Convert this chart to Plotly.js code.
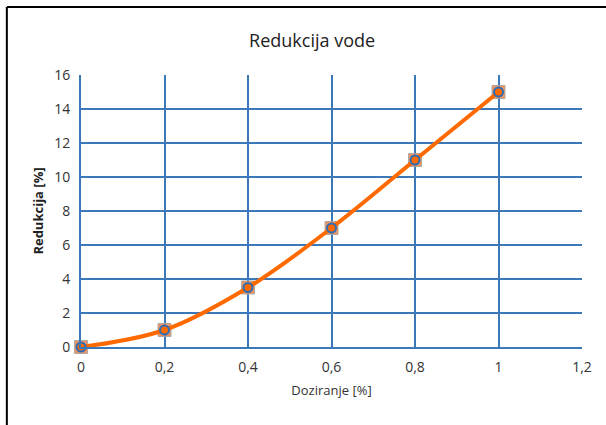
<!DOCTYPE html>
<html>
<head>
<meta charset="utf-8">
<script src="https://cdn.plot.ly/plotly-3.0.1.min.js"></script>
<style>html,body{margin:0;padding:0;background:#fff;}#chart{width:606px;height:425px;}</style>
</head>
<body>
<div id="chart"></div>
<script>
const doziranje = [0, 0.2, 0.4, 0.6, 0.8, 1];
const redukcija = [0, 1, 3.5, 7, 11, 15];
const xTicks = [0, 0.2, 0.4, 0.6, 0.8, 1, 1.2];
const yTicks = [0, 2, 4, 6, 8, 10, 12, 14, 16];

const gridBlue = '#3A78B8';
const font = 'Open Sans, Liberation Sans, sans-serif';

const traces = [
  {
    x: doziranje, y: redukcija, type: 'scatter', mode: 'markers', cliponaxis: false,
    marker: {symbol: 'square', size: 13, color: 'rgba(236,130,70,0.85)', line: {color: 'rgba(165,165,165,0.9)', width: 1}},
    hoverinfo: 'skip', showlegend: false
  },
  {
    x: doziranje, y: redukcija, type: 'scatter', mode: 'lines+markers', cliponaxis: false,
    line: {shape: 'spline', smoothing: 1, color: '#FF6A00', width: 4},
    marker: {symbol: 'circle', size: 9, color: '#FF6A00', line: {color: '#2E6DB4', width: 2}},
    showlegend: false
  }
];

const layout = {
  width: 606, height: 425,
  margin: {l: 81, r: 24, t: 75, b: 78},
  paper_bgcolor: '#fff', plot_bgcolor: '#fff',
  separators: ',.',
  title: {text: 'Redukcija vode', x: 0.515, xanchor: 'center', y: 0.905, yanchor: 'middle',
          font: {family: font, size: 18, color: '#222'}},
  xaxis: {
    range: [0, 1.2], tickvals: xTicks, ticks: '', showgrid: true, gridcolor: gridBlue, gridwidth: 2,
    showline: true, linecolor: gridBlue, linewidth: 2, zeroline: false, mirror: false,
    tickfont: {family: font, size: 14, color: '#333'}, ticklabelstandoff: 6,
    title: {text: 'Doziranje [%]', font: {family: font, size: 13, color: '#333'}, standoff: 11}
  },
  yaxis: {
    range: [0, 16], tickvals: yTicks, ticks: '', showgrid: true, gridcolor: gridBlue, gridwidth: 2,
    showline: true, linecolor: gridBlue, linewidth: 2, zeroline: false,
    tickfont: {family: font, size: 14, color: '#333'}, ticklabelstandoff: 6,
    title: {text: '<b>Redukcija [%]</b>', font: {family: font, size: 13, color: '#222'}, standoff: 8}
  },
  shapes: [
    {type: 'line', xref: 'paper', yref: 'paper', x0: -0.148, x1: 1.1, y0: 1.25, y1: 1.25, line: {color: '#000', width: 2}},
    {type: 'line', xref: 'paper', yref: 'paper', x0: -0.148, x1: -0.148, y0: 1.25, y1: -0.3, line: {color: '#000', width: 2}}
  ]
};

Plotly.newPlot('chart', traces, layout, {displayModeBar: false, staticPlot: true});
</script>
</body>
</html>
